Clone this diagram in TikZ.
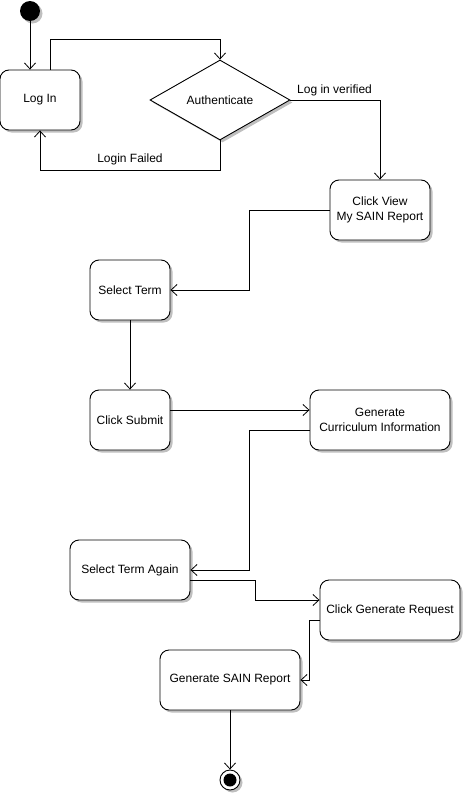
\documentclass[tikz,border=0pt]{standalone}
\usepackage{fontspec}
\setmainfont{Liberation Sans}
\usetikzlibrary{arrows.meta,shapes.geometric,shadows}
\begin{document}
\begin{tikzpicture}[x=1pt,y=-1pt,
  font=\fontsize{12}{14.5}\selectfont,
  shd/.style={drop shadow={shadow xshift=2.5pt,shadow yshift=-2.5pt,fill=black,opacity=0.25}},
  act/.style={draw,line width=0.9pt,rounded corners=9pt,fill=white,shd,inner sep=0pt,align=center,minimum height=60pt},
  dec/.style={draw,line width=0.9pt,diamond,fill=white,shd,inner sep=0pt,minimum width=140pt,minimum height=80pt},
  arr/.style={draw,line width=0.8pt,-{Straight Barb[length=6pt,width=11pt,line width=0.8pt]}},
  lbl/.style={inner sep=0pt}
]
\useasboundingbox[fill=white] (0,0) rectangle (465,795);
\node[circle,fill=black,minimum size=20pt,inner sep=0pt,shd] (start) at (30,11) {};
\node[act,minimum width=80pt] (login) at (40,100) {Log In};
\node[dec] (auth) at (220,100) {Authenticate};
\node[act,minimum width=100pt] (view) at (380,210) {Click View\\My SAIN Report};
\node[act,minimum width=80pt] (select) at (130,290) {Select Term};
\node[act,minimum width=80pt] (submit) at (130,420) {Click Submit};
\node[act,minimum width=140pt] (gencur) at (380,420) {Generate\\Curriculum Information};
\node[act,minimum width=120pt] (again) at (130,570) {Select Term Again};
\node[act,minimum width=140pt] (cgr) at (390,610) {Click Generate Request};
\node[act,minimum width=140pt] (gsr) at (230,680) {Generate SAIN Report};
\node[circle,draw,line width=0.9pt,fill=white,minimum size=20pt,inner sep=0pt,shd] (end) at (230,780) {};
\node[circle,fill=black,minimum size=13pt,inner sep=0pt] (endin) at (end.center) {};

\draw[arr] (start.south) -- (start.south |- login.north);
\draw[arr] ([xshift=10pt]login.north) -- ++(0,-30) -| (auth.north);
\draw[arr] (auth.south) -- ++(0,30) -| (login.south);
\node[lbl] (lf) at (130,159) {Login Failed};
\draw[arr] (auth.east) -| (view.north);
\node[lbl,anchor=west] (lv) at (297,90) {Log in verified};
\draw[arr] (view.west) -- ++(-80,0) |- (select.east);
\draw[arr] (select.south) -- (submit.north);
\draw[arr] ([yshift=10pt]submit.east) -- ([yshift=10pt]gencur.west);
\draw[arr] ([yshift=-10pt]gencur.west) -- ++(-60,0) |- (again.east);
\draw[arr] ([yshift=-10pt]again.east) -- ++(65,0) |- ([yshift=10pt]cgr.west);
\draw[arr] ([yshift=-10pt]cgr.west) -- ++(-10,0) |- (gsr.east);
\draw[arr] (gsr.south) -- (end.north);
\end{tikzpicture}
\end{document}
